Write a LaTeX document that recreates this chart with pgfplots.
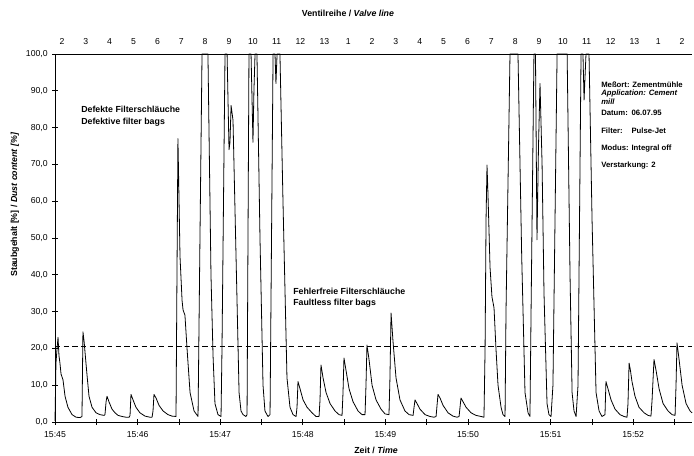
\documentclass[border=0pt]{standalone}
\usepackage{fontspec}
\setmainfont{Liberation Sans}
\usepackage{pgfplots}
\pgfplotsset{compat=1.18}

% time in seconds after 15:45, dust content in %
\begin{document}
\begin{tikzpicture}[font=\fontsize{6.6}{7.6}\selectfont]
\begin{axis}[
  at={(0,0)}, anchor=south west,
  scale only axis, width=477.75pt, height=276pt,
  xmin=0, xmax=462.7, ymin=0, ymax=100, clip=false,
  axis x line*=bottom, axis y line*=left, axis line style={-, line width=0.6pt},
  xtick={0,60,...,420},
  xticklabels={15:45,15:46,15:47,15:48,15:49,15:50,15:51,15:52},
  minor xtick={30,90,...,450},
  ytick={0,10,...,100},
  tick align=center, major tick length=4pt, minor tick length=4pt,
  tick style={black, line width=0.5pt},
  yticklabel style={/pgf/number format/.cd, fixed, fixed zerofill, precision=1,
                    use comma, assume math mode=true},
  ticklabel style={font=\fontsize{6.5}{7.5}\selectfont},
  xticklabel style={yshift=-1.5pt},
]
\addplot[black, line width=0.5pt, dash pattern=on 4pt off 2.5pt]
  coordinates {(0,20.5)(462.7,20.5)};
\addplot[black, line width=0.6pt, line join=round] coordinates {
(0,0.3)(0.7,16)(1.5,20)(2.2,23)(2.9,18)(3.6,16)(4.4,13)(5.8,11.5)(7.3,7)(9.4,4)(12.4,2)(15.3,1.3)(18.2,1.2)(19.6,1.5)
(20.3,24.5)(21.1,22)(21.8,19)(23.2,13)(24.7,7)(26.9,4)(29.8,2.5)(32.7,2)(35.6,1.8)(36.3,2)
(37.1,5.5)(37.8,7)(39.2,5.5)(41.4,3.5)(43.6,2.5)(45.8,1.8)(48.7,1.5)(51.6,1.3)(53.8,1.3)(54.5,1.8)
(55.2,7.5)(56.7,6)(58.8,4)(61.7,2.5)(65.4,1.6)(69.0,1.3)(70.5,1.3)(71.2,3)
(71.9,7.5)(73.4,6.5)(75.6,4.5)(78.5,3)(82.1,2)(85.0,1.6)(87.9,1.5)(88.6,40)
(89.3,77)(90.1,60)(90.8,45)(92.3,33)(93.0,30.5)(94.4,29)(95.9,20)(98.1,8)(101.0,3)(103.9,1.5)
(105.3,50)(106.8,100)(111.1,100)(113.3,40)(114.8,18)(116.2,5)(118.4,2)(120.6,1.5)
(121.3,20)(123.5,100)(125.0,100)(126.4,74)(127.1,76)(127.9,86)(129.3,82)(131.5,45)(133.7,8)(135.1,3)(136.6,2)(138.7,1.5)
(139.5,2)(140.9,100)(142.4,100)(143.8,76)(144.5,90)(145.3,100)(146.7,100)(148.9,50)(151.1,10)(152.5,3)(154.7,1.5)(156.2,2)
(158.4,100)(159.8,100)(160.5,92)(161.3,100)(163.4,100)(165.6,60)(168.5,12)(170.7,4)(172.9,2)(175.1,1.5)(175.8,4)
(176.5,11)(178.0,9)(180.2,6)(183.1,4)(186.7,2.5)(189.6,1.5)(191.8,1.5)(192.5,6)
(193.2,15.5)(194.7,12)(196.9,8)(199.8,5)(203.4,3)(206.3,2)(208.5,1.8)(209.2,8)
(209.9,17.4)(211.4,14)(213.6,9)(216.5,5.5)(220.1,3)(223.0,2)(225.2,2)(225.9,10)
(226.6,20.9)(228.1,17)(230.3,10)(233.2,6)(236.8,3.5)(239.7,2.2)(242.6,2)(243.3,12)
(244.1,29.6)(245.5,22)(247.7,12)(250.6,6)(254.2,3)(257.2,2)(260.1,1.8)(260.8,4)
(261.5,6)(263.0,5)(265.1,3.5)(268.8,2)(272.4,1.5)(275.3,1.3)(276.8,1.5)
(278.2,7.5)(279.7,6.5)(281.9,4.5)(285.5,2.5)(289.1,1.6)(292.0,1.3)(293.5,1.5)
(294.9,6.5)(296.4,5.5)(298.6,4)(302.2,2.5)(305.8,1.8)(309.5,1.5)(311.6,1.3)(312.4,20)
(313.1,55)(313.8,69.8)(314.5,62)(316.0,42)(317.4,34)(318.9,31)(320.3,20)(321.8,10)(324.0,4)(325.4,2)(326.9,1.5)
(327.6,30)(330.5,100)(336.3,100)(339.0,45)(341.4,8)(343.6,2.5)(345.0,1.5)
(345.8,30)(347.9,100)(349.0,100)(350.1,49.5)(351.2,75)(352.3,92)(353.8,70)(355.2,35)(357.4,5)(358.8,2)(360.3,1.5)
(361.7,10)(364.7,100)(372.0,100)(374.1,40)(375.6,8)(377.0,3)(378.5,1.5)
(379.9,10)(382.1,100)(383.5,100)(384.3,87.5)(385.7,100)(387.9,100)(390.1,55)(393.0,8)(395.2,3)(397.3,1.5)(399.5,2)
(400.2,11)(401.7,9)(403.9,6)(406.8,3.5)(410.4,2)(413.3,1.5)(415.5,1.3)(416.2,5)
(417.0,16)(418.0,14)(419.1,11)(421.3,7)(424.2,4)(427.9,2.5)(430.8,1.8)(432.9,1.6)(433.7,6)
(435.1,17)(436.6,14)(438.8,9)(441.7,5)(445.3,3)(448.2,2)(450.4,1.8)(451.1,10)
(451.8,21.5)(453.3,17)(455.5,10)(458.4,5)(461.3,3)(462.7,2.5)
};
\begin{scope}[every node/.style={inner sep=0pt, font=\fontsize{6.6}{7.6}\selectfont\bfseries}]
\node[anchor=west] at (axis cs:18.9,85) {Defekte Filterschläuche};
\node[anchor=west] at (axis cs:18.9,81.5) {Defektive filter bags};
\node[anchor=west] at (axis cs:172.9,35.4) {Fehlerfreie Filterschläuche};
\node[anchor=west] at (axis cs:172.9,32.3) {Faultless filter bags};
\node at (axis cs:212.8,110.9) {Ventilreihe / \itshape Valve line};
\node at (axis cs:233.2,-7.6) {Zeit / \itshape Time};
\node[rotate=90] at (axis cs:-29.1,59) {Staubgehalt [\%] / \itshape Dust content [\%]};
\end{scope}
\begin{scope}[every node/.style={inner sep=0pt, anchor=west, font=\fontsize{5.8}{6.6}\selectfont\bfseries}]
\node at (axis cs:396.6,91.7) {Meßort: Zementmühle};
\node at (axis cs:396.6,89.4) {\itshape Application: Cement};
\node at (axis cs:396.6,87.1) {\itshape mill};
\node at (axis cs:396.6,83.9) {Datum:};
\node at (axis cs:418.6,83.9) {06.07.95};
\node at (axis cs:396.6,79.1) {Filter:};
\node at (axis cs:418.6,79.1) {Pulse-Jet};
\node at (axis cs:396.6,74.4) {Modus:};
\node at (axis cs:418.6,74.4) {Integral off};
\node at (axis cs:396.6,69.6) {Verstarkung: 2};
\end{scope}
\end{axis}
\begin{axis}[
  at={(0,0)}, anchor=south west,
  scale only axis, width=477.75pt, height=276pt,
  xmin=0, xmax=462.7, ymin=0, ymax=100,
  axis x line*=top, axis y line=none, axis line style={-, line width=0.6pt},
  xtick={5.1,22.4,39.7,57.1,74.4,91.7,109.0,126.4,143.7,161.0,178.3,195.7,213.0,
         230.3,247.6,265.0,282.3,299.6,316.9,334.3,351.6,368.9,386.2,403.6,420.9,438.2,455.5},
  xticklabels={2,3,4,5,6,7,8,9,10,11,12,13,1,2,3,4,5,6,7,8,9,10,11,12,13,1,2},
  major tick length=0pt, xticklabel shift=3.5pt,
  ticklabel style={font=\fontsize{6.5}{7.5}\selectfont},
]
\addplot[draw=none] coordinates {(0,0)};
\end{axis}
\pgfresetboundingbox
\path[use as bounding box] (-41.25pt,-24.75pt) rectangle (479.25pt,316.5pt);
\end{tikzpicture}
\end{document}
